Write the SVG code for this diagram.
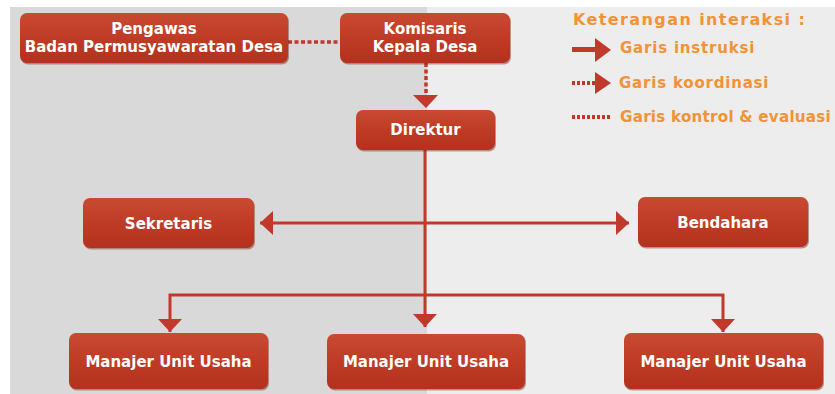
<svg xmlns="http://www.w3.org/2000/svg" width="835" height="394" viewBox="0 0 835 394">
  <style>
    .box { fill: url(#boxGrad); }
    .shadow { fill: #7d2416; opacity: 0.45; }
    .lbl { font-family: "DejaVu Sans", "Noto Sans", sans-serif; font-weight: bold; font-size: 15px; fill: #ffffff; text-anchor: middle; }
    .conn { fill: none; stroke: #c0392b; stroke-width: 3; }
    .dash { stroke-dasharray: 4 2.5; stroke-width: 3.5; }
    .leg { font-family: "DejaVu Sans", "Noto Sans", sans-serif; font-weight: bold; font-size: 15px; fill: #f39237; letter-spacing: 0.8px; }
    .head { fill: #c0392b; }
  </style>
  <defs>
    <linearGradient id="boxGrad" x1="0" y1="0" x2="0" y2="1">
      <stop offset="0" stop-color="#c84a33"/>
      <stop offset="0.5" stop-color="#bf3b25"/>
      <stop offset="1" stop-color="#b3321d"/>
    </linearGradient>
    <marker id="arrow" markerUnits="userSpaceOnUse" markerWidth="14" markerHeight="24" refX="13" refY="12" orient="auto">
      <path d="M0,0 L13,12 L0,24 z" fill="#c0392b"/>
    </marker>
  </defs>

  <!-- background -->
  <rect x="0" y="0" width="835" height="394" fill="#ffffff"/>
  <rect x="10" y="7" width="417" height="387" fill="#d9d9d9"/>
  <rect x="427" y="7" width="408" height="387" fill="#ededed"/>

  <!-- connectors -->
  <g id="connectors">
    <line class="conn dash" x1="288" y1="42" x2="340" y2="42"/>
    <path class="conn dash" d="M426,63 V100"/>
    <path class="head" d="M413,95 L438,95 L426,108 z"/>
    <path class="conn" d="M425,150 V327" marker-end="url(#arrow)"/>
    <path class="conn" d="M425,223 H260" marker-end="url(#arrow)"/>
    <path class="conn" d="M425,223 H629" marker-end="url(#arrow)"/>
    <path class="conn" d="M425,295 H170 V332" marker-end="url(#arrow)"/>
    <path class="conn" d="M425,295 H723 V332" marker-end="url(#arrow)"/>
  </g>

  <!-- nodes -->
  <g id="pengawas">
    <rect class="shadow" x="21" y="14.5" width="268" height="50" rx="7"/>
    <rect class="box" x="20" y="13" width="268" height="50" rx="7"/>
    <text class="lbl" x="154" y="34">Pengawas</text>
    <text class="lbl" x="154" y="52">Badan Permusyawaratan Desa</text>
  </g>
  <g id="komisaris">
    <rect class="shadow" x="341" y="14.5" width="170" height="50" rx="7"/>
    <rect class="box" x="340" y="13" width="170" height="50" rx="7"/>
    <text class="lbl" x="425" y="34">Komisaris</text>
    <text class="lbl" x="425" y="52">Kepala Desa</text>
  </g>
  <g id="direktur">
    <rect class="shadow" x="357" y="111.5" width="139" height="40" rx="7"/>
    <rect class="box" x="356" y="110" width="139" height="40" rx="7"/>
    <text class="lbl" x="425.5" y="135">Direktur</text>
  </g>
  <g id="sekretaris">
    <rect class="shadow" x="84" y="199.5" width="171" height="50" rx="7"/>
    <rect class="box" x="83" y="198" width="171" height="50" rx="7"/>
    <text class="lbl" x="168.5" y="229">Sekretaris</text>
  </g>
  <g id="bendahara">
    <rect class="shadow" x="639" y="198.5" width="170" height="50" rx="7"/>
    <rect class="box" x="638" y="197" width="170" height="50" rx="7"/>
    <text class="lbl" x="723" y="228">Bendahara</text>
  </g>
  <g id="manajer1">
    <rect class="shadow" x="70" y="334.5" width="199" height="56" rx="7"/>
    <rect class="box" x="69" y="333" width="199" height="56" rx="7"/>
    <text class="lbl" x="168.5" y="367">Manajer Unit Usaha</text>
  </g>
  <g id="manajer2">
    <rect class="shadow" x="328" y="335.5" width="198" height="55" rx="7"/>
    <rect class="box" x="327" y="334" width="198" height="55" rx="7"/>
    <text class="lbl" x="426" y="367">Manajer Unit Usaha</text>
  </g>
  <g id="manajer3">
    <rect class="shadow" x="625" y="334.5" width="199" height="56" rx="7"/>
    <rect class="box" x="624" y="333" width="199" height="56" rx="7"/>
    <text class="lbl" x="723.5" y="367">Manajer Unit Usaha</text>
  </g>

  <!-- legend -->
  <g id="legend">
    <text class="leg" x="573" y="25" style="font-size:16px; letter-spacing:1.4px">Keterangan interaksi :</text>
    <line x1="572" y1="49.5" x2="598" y2="49.5" stroke="#c0392b" stroke-width="5"/>
    <path class="head" d="M595,38 L611,50 L595,62 z"/>
    <text class="leg" x="620" y="53">Garis instruksi</text>
    <line x1="572" y1="83" x2="597" y2="83" stroke="#c0392b" stroke-width="4" stroke-dasharray="3 2"/>
    <path class="head" d="M595,72 L611,83 L595,94 z"/>
    <text class="leg" x="619" y="88">Garis koordinasi</text>
    <line x1="572" y1="117" x2="611" y2="117" stroke="#c0392b" stroke-width="4" stroke-dasharray="3 2"/>
    <text class="leg" x="620" y="122" style="letter-spacing:0.2px" textLength="211" lengthAdjust="spacingAndGlyphs">Garis kontrol &amp; evaluasi</text>
  </g>
</svg>
